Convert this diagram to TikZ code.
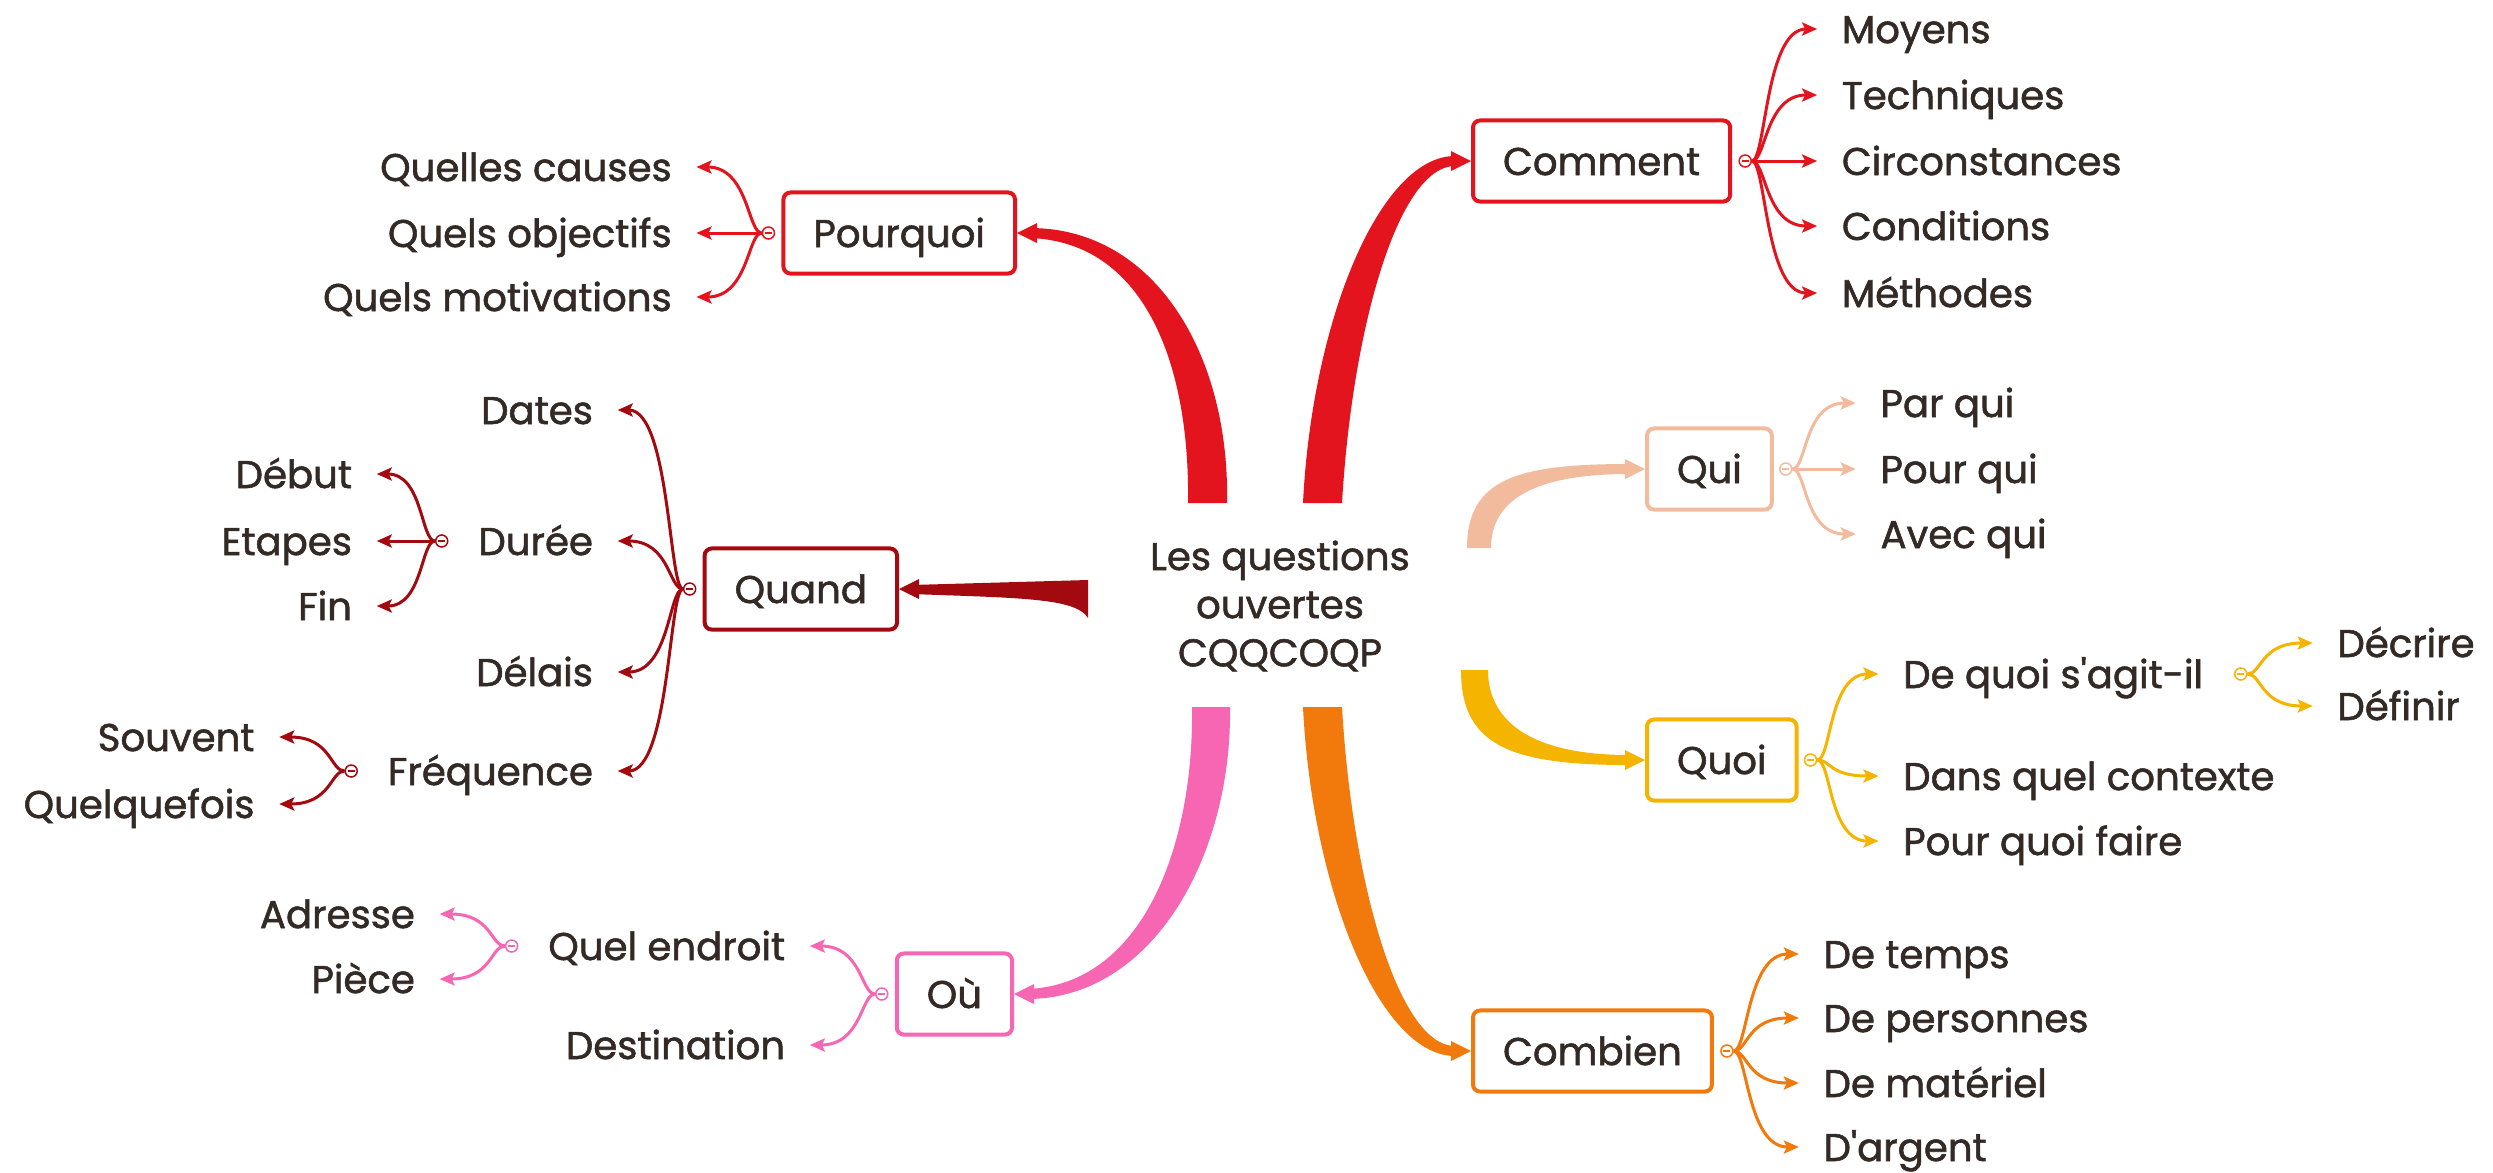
\documentclass[tikz,border=0pt]{standalone}
\usepackage{fontspec}
\setmainfont{Poppins}[FakeBold=1.4]
\usetikzlibrary{calc,arrows.meta}

\definecolor{txt}{HTML}{332A25}
\definecolor{cred}{HTML}{E3141E}
\definecolor{cdark}{HTML}{A30A10}
\definecolor{cpink}{HTML}{F766B2}
\definecolor{cpeach}{HTML}{F2BB9D}
\definecolor{cgold}{HTML}{F5B400}
\definecolor{corange}{HTML}{F27A0C}

\newcommand{\qfont}{\fontsize{11}{13.7}\selectfont}

\tikzset{
  box/.style={draw=#1, line width=0.04cm, rounded corners=0.07cm, fill=white,
    text=txt, font=\qfont, inner xsep=0.3cm, inner ysep=0pt,
    text height=0.28cm, text depth=0pt, minimum height=0.81cm},
  leaf/.style={text=txt, font=\qfont, inner xsep=0.24cm, inner ysep=0pt,
    text height=0.28cm, text depth=0pt},
  rleaf/.style={leaf, anchor=west},
  lleaf/.style={leaf, anchor=east},
  fork/.style={circle, draw=#1, line width=0.015cm, fill=white,
    minimum size=0.12cm, inner sep=0pt,
    path picture={\draw[#1, line width=0.012cm]
      ([xshift=0.025cm]path picture bounding box.west) --
      ([xshift=-0.025cm]path picture bounding box.east);}},
  twig/.style={draw=#1, line width=0.03cm,
    -{Stealth[length=0.15cm,width=0.13cm,inset=0.03cm]}}
}

\begin{document}
\begin{tikzpicture}[x=0.01cm,y=-0.01cm]
  % Page
  \fill[white] (0,0) rectangle (2493,1172);
  \useasboundingbox (0,0) rectangle (2493,1172);

  % Centre
  \node[font=\qfont, text=txt, align=center] (root) at (1280,606)
    {Les questions\\ouvertes\\CQQCOQP};

  % Comment
  \node[box=cred, anchor=west] (cm) at (1471,161) {Comment};
  \node[fork=cred] (cmf) at ($(cm.east)+(13,0)$) {};
  \node[rleaf] (moy) at ($(cmf)+(72,-132)$) {Moyens};
  \node[rleaf] (tec) at ($(cmf)+(72,-66)$) {Techniques};
  \node[rleaf] (cir) at ($(cmf)+(72,0)$) {Circonstances};
  \node[rleaf] (cnd) at ($(cmf)+(72,65)$) {Conditions};
  \node[rleaf] (met) at ($(cmf)+(72,132)$) {Méthodes};

  % Pourquoi
  \node[box=cred, anchor=east] (pq) at (1017,233) {Pourquoi};
  \node[fork=cred] (pqf) at ($(pq.west)+(-13,0)$) {};
  \node[lleaf] (cau) at ($(pqf)+(-72,-66)$) {Quelles causes};
  \node[lleaf] (obj) at ($(pqf)+(-72,0)$) {Quels objectifs};
  \node[lleaf] (mot) at ($(pqf)+(-72,64)$) {Quels motivations};

  % Quand
  \node[box=cdark, anchor=east] (qd) at (899,589) {Quand};
  \node[fork=cdark] (qdf) at ($(qd.west)+(-13,0)$) {};
  \node[lleaf] (dat) at ($(qdf)+(-72,-179)$) {Dates};
  \node[lleaf] (dur) at ($(qdf)+(-72,-48)$) {Durée};
  \node[lleaf] (del) at ($(qdf)+(-72,83)$) {Délais};
  \node[lleaf] (fre) at ($(qdf)+(-72,182)$) {Fréquence};
  \node[fork=cdark] (durf) at ($(dur.west)+(-12,0)$) {};
  \node[lleaf] (deb) at ($(durf)+(-65,-67)$) {Début};
  \node[lleaf] (eta) at ($(durf)+(-65,0)$) {Etapes};
  \node[lleaf] (fin) at ($(durf)+(-65,65)$) {Fin};
  \node[fork=cdark] (fref) at ($(fre.west)+(-12,0)$) {};
  \node[lleaf] (sou) at ($(fref)+(-72,-34)$) {Souvent};
  \node[lleaf] (qlq) at ($(fref)+(-72,33)$) {Quelquefois};

  % Ou
  \node[box=cpink, anchor=east] (ou) at (1014,994) {Où};
  \node[fork=cpink] (ouf) at ($(ou.west)+(-13,0)$) {};
  \node[lleaf] (qen) at ($(ouf)+(-72,-48)$) {Quel endroit};
  \node[lleaf] (dst) at ($(ouf)+(-72,51)$) {Destination};
  \node[fork=cpink] (qenf) at ($(qen.west)+(-12,0)$) {};
  \node[lleaf] (adr) at ($(qenf)+(-72,-32)$) {Adresse};
  \node[lleaf] (pie) at ($(qenf)+(-72,33)$) {Pièce};

  % Qui
  \node[box=cpeach, anchor=west] (qui) at (1645,469) {Qui};
  \node[fork=cpeach] (quif) at ($(qui.east)+(12,0)$) {};
  \node[rleaf] (par) at ($(quif)+(70,-66)$) {Par qui};
  \node[rleaf] (pou) at ($(quif)+(70,0)$) {Pour qui};
  \node[rleaf] (ave) at ($(quif)+(70,65)$) {Avec qui};

  % Quoi
  \node[box=cgold, anchor=west] (quoi) at (1645,760) {Quoi};
  \node[fork=cgold] (quof) at ($(quoi.east)+(12,0)$) {};
  \node[rleaf] (agi) at ($(quof)+(68,-86)$) {De quoi s\textquotesingle agit-il};
  \node[rleaf] (ctx) at ($(quof)+(68,16)$) {Dans quel contexte};
  \node[rleaf] (fai) at ($(quof)+(68,81)$) {Pour quoi faire};
  \node[fork=cgold] (agif) at ($(agi.east)+(13,0)$) {};
  \node[rleaf] (dec) at ($(agif)+(72,-31)$) {Décrire};
  \node[rleaf] (def) at ($(agif)+(72,32)$) {Définir};

  % Combien
  \node[box=corange, anchor=west] (cb) at (1471,1051) {Combien};
  \node[fork=corange] (cbf) at ($(cb.east)+(13,0)$) {};
  \node[rleaf] (tps) at ($(cbf)+(72,-97)$) {De temps};
  \node[rleaf] (per) at ($(cbf)+(72,-33)$) {De personnes};
  \node[rleaf] (mat) at ($(cbf)+(72,32)$) {De matériel};
  \node[rleaf] (arg) at ($(cbf)+(72,96)$) {D\textquotesingle argent};

  % Twigs, right side
  \foreach \n in {moy,tec,cir,cnd,met}
    \draw[twig=cred] (cmf.east) .. controls +(14,0) and +(-52,0) .. (\n.west);
  \foreach \n in {par,pou,ave}
    \draw[twig=cpeach] (quif.east) .. controls +(14,0) and +(-52,0) .. (\n.west);
  \foreach \n in {agi,ctx,fai}
    \draw[twig=cgold] (quof.east) .. controls +(14,0) and +(-50,0) .. (\n.west);
  \foreach \n in {dec,def}
    \draw[twig=cgold] (agif.east) .. controls +(14,0) and +(-52,0) .. (\n.west);
  \foreach \n in {tps,per,mat,arg}
    \draw[twig=corange] (cbf.east) .. controls +(14,0) and +(-52,0) .. (\n.west);

  % Twigs, left side
  \foreach \n in {cau,obj,mot}
    \draw[twig=cred] (pqf.west) .. controls +(-14,0) and +(52,0) .. (\n.east);
  \foreach \n in {dat,dur,del,fre}
    \draw[twig=cdark] (qdf.west) .. controls +(-14,0) and +(52,0) .. (\n.east);
  \foreach \n in {deb,eta,fin}
    \draw[twig=cdark] (durf.west) .. controls +(-14,0) and +(46,0) .. (\n.east);
  \foreach \n in {sou,qlq}
    \draw[twig=cdark] (fref.west) .. controls +(-14,0) and +(52,0) .. (\n.east);
  \foreach \n in {qen,dst}
    \draw[twig=cpink] (ouf.west) .. controls +(-14,0) and +(52,0) .. (\n.east);
  \foreach \n in {adr,pie}
    \draw[twig=cpink] (qenf.west) .. controls +(-14,0) and +(52,0) .. (\n.east);

  % Main branches
  \fill[cred] ($(root)+(-53,-103)$) .. controls +(3,-148) and +(125,0) .. ($(pq.east)+(13,-5)$)
    -- ($(pq.east)+(13,5)$) .. controls +(115,4) and +(2,-138) .. ($(root)+(-92,-103)$) -- cycle;
  \fill[cred] (pq.east) -- ++(20,-10) -- ++(0,20) -- cycle;

  \fill[cred] ($(root)+(23,-103)$) .. controls +(9,-183) and +(-75,0) .. ($(cm.west)+(-16,-5)$)
    -- ($(cm.west)+(-16,5)$) .. controls +(-57,0) and +(10,-173) .. ($(root)+(62,-103)$) -- cycle;
  \fill[cred] (cm.west) -- ++(-20,-10) -- ++(0,20) -- cycle;

  \fill[cpeach] ($(root)+(187,-58)$) .. controls +(0,-70) and +(-110,0) .. ($(qui.west)+(-16,-5)$)
    -- ($(qui.west)+(-16,5)$) .. controls +(-100,0) and +(0,-45) .. ($(root)+(211,-58)$) -- cycle;
  \fill[cpeach] (qui.west) -- ++(-20,-10) -- ++(0,20) -- cycle;

  \fill[cgold] ($(root)+(181,64)$) .. controls +(0,75) and +(-120,0) .. ($(quoi.west)+(-16,5)$)
    -- ($(quoi.west)+(-16,-5)$) .. controls +(-100,0) and +(0,50) .. ($(root)+(208,64)$) -- cycle;
  \fill[cgold] (quoi.west) -- ++(-20,-10) -- ++(0,20) -- cycle;

  \fill[corange] ($(root)+(23,101)$) .. controls +(9,183) and +(-75,0) .. ($(cb.west)+(-16,5)$)
    -- ($(cb.west)+(-16,-5)$) .. controls +(-57,0) and +(10,173) .. ($(root)+(62,101)$) -- cycle;
  \fill[corange] (cb.west) -- ++(-20,-10) -- ++(0,20) -- cycle;

  \fill[cpink] ($(root)+(-50,101)$) .. controls +(2,150) and +(125,0) .. ($(ou.east)+(13,5)$)
    -- ($(ou.east)+(13,-5)$) .. controls +(115,-4) and +(2,140) .. ($(root)+(-88,101)$) -- cycle;
  \fill[cpink] (ou.east) -- ++(20,-10) -- ++(0,20) -- cycle;

  \fill[cdark] ($(root)+(-192,-26)$) -- ($(qd.east)+(12,-4)$) -- ($(qd.east)+(12,5)$)
    .. controls +(110,4) and +(-12,-20) .. ($(root)+(-192,12)$) -- cycle;
  \fill[cdark] (qd.east) -- ++(20,-10) -- ++(0,20) -- cycle;
\end{tikzpicture}
\end{document}
